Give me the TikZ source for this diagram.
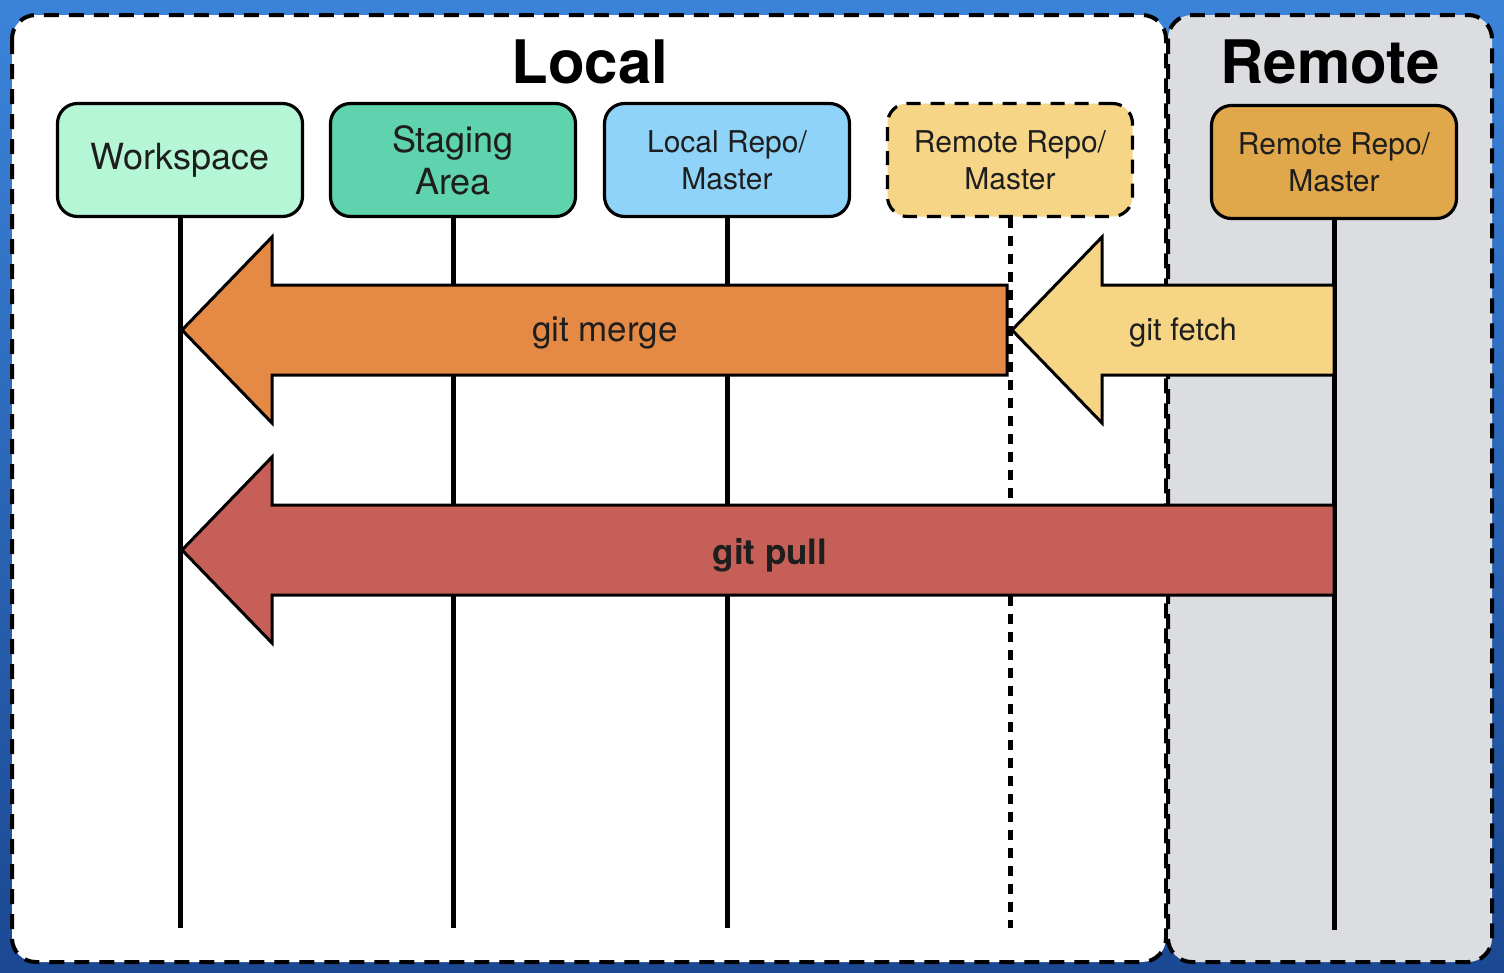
\documentclass[tikz,border=0pt]{standalone}
\usepackage{fontspec}
\setmainfont{TeX Gyre Heros}
\usetikzlibrary{calc}
\definecolor{bgtop}{HTML}{3B84DA}
\definecolor{bgbot}{HTML}{1B4892}
\definecolor{remotebg}{HTML}{DCDDE0}
\definecolor{wsfill}{HTML}{B4F6D6}
\definecolor{stfill}{HTML}{5FD2AE}
\definecolor{lrfill}{HTML}{8FD4F8}
\definecolor{rcfill}{HTML}{F6D587}
\definecolor{rrfill}{HTML}{E1A74B}
\definecolor{mergefill}{HTML}{E48A45}
\definecolor{fetchfill}{HTML}{F6D585}
\definecolor{pullfill}{HTML}{C65F58}
\definecolor{ink}{HTML}{1E1E1E}
\newcommand\fs[2]{\fontsize{#1}{#2}\selectfont}
% fat block arrow from tip T back to tail end E (same height)
\newcommand\blockarrow[3]{%
  \draw[arrowline, fill=#3] (#1) -- ($(#1)+(90,-93)$) -- ($(#1)+(90,-45)$)
    -- ($(#2)+(0,-45)$) -- ($(#2)+(0,45)$) -- ($(#1)+(90,45)$)
    -- ($(#1)+(90,93)$) -- cycle;}
\tikzset{
  panel/.style={line width=4pt, dash pattern=on 15pt off 10pt, rounded corners=24pt},
  repobox/.style={draw=black, line width=3.2pt, rounded corners=20pt,
    minimum width=245pt, minimum height=113pt, align=center, text=ink, inner sep=0pt},
  lifeline/.style={line width=5pt},
  arrowline/.style={line width=3pt, line join=miter},
  title/.style={font=\fs{60}{66}\bfseries, text=black},
  cmd/.style={text=ink, yshift=-3pt}
}
\begin{document}
\begin{tikzpicture}[x=1pt,y=-1pt]
\useasboundingbox (0,0) rectangle (1504,972);
% backdrop
\shade[top color=bgtop, bottom color=bgbot] (0,0) rectangle (1504,972);
% local and remote panels
\draw[panel, fill=white] (12,15) rectangle (1166,962);
\draw[panel, fill=remotebg] (1168,15) rectangle (1492,962);
% titles
\node[title] (localtitle) at (590,62) {Local};
\node[title] (remotetitle) at (1330,62) {Remote};
% repository boxes
\node[repobox, fill=wsfill, font=\fs{36}{40}] (ws) at (180,160) {\raisebox{-3pt}{Workspace}};
\node[repobox, fill=stfill, font=\fs{36}{42}] (st) at (453,160) {Staging\\Area};
\node[repobox, fill=lrfill, font=\fs{30}{37}] (lr) at (727,160) {Local Repo/\\Master};
\node[repobox, fill=rcfill, font=\fs{30}{37}, dash pattern=on 14pt off 10pt] (rc) at (1010,160) {Remote Repo/\\Master};
\node[repobox, fill=rrfill, font=\fs{30}{37}] (rr) at (1334,162) {Remote Repo/\\Master};
% lifeline ends
\coordinate (wsend) at (180,928);
\coordinate (stend) at (453,928);
\coordinate (lrend) at (727,928);
\coordinate (rcend) at (1010,928);
\coordinate (rrend) at (1334,930);
\draw[lifeline] (ws.south) -- (wsend);
\draw[lifeline] (st.south) -- (stend);
\draw[lifeline] (lr.south) -- (lrend);
\draw[lifeline, dash pattern=on 10pt off 8pt] (rc.south) -- (rcend);
\draw[lifeline] (rr.south) -- (rrend);
% arrow tips and tails
\coordinate (mergetip) at (182,330);
\coordinate (mergetail) at (1007,330);
\coordinate (fetchtip) at (1012,330);
\coordinate (fetchtail) at (1334,330);
\coordinate (pulltip) at (182,550);
\coordinate (pulltail) at (1334,550);
\blockarrow{mergetip}{mergetail}{mergefill}
\blockarrow{fetchtip}{fetchtail}{fetchfill}
\blockarrow{pulltip}{pulltail}{pullfill}
% commands
\node[cmd, font=\fs{35}{40}] (mergelabel) at (605,330) {git merge};
\node[cmd, font=\fs{31}{36}] (fetchlabel) at (1183,330) {git fetch};
\node[cmd, font=\fs{35}{40}\bfseries] (pulllabel) at (770,552) {git pull};
\end{tikzpicture}
\end{document}
